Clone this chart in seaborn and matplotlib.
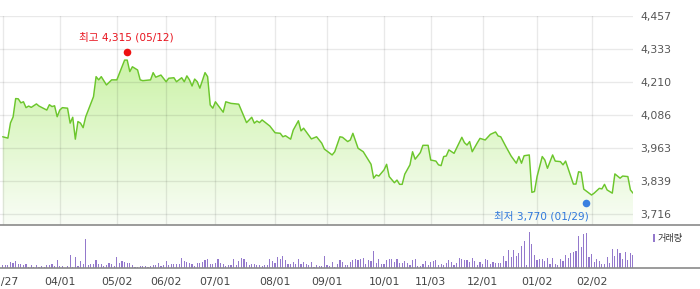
import numpy as np
import pandas as pd
import matplotlib
matplotlib.use("Agg")
import matplotlib.pyplot as plt
import seaborn as sns
from matplotlib.transforms import offset_copy
from matplotlib.patches import Rectangle, PathPatch
from matplotlib.lines import Line2D
from matplotlib.ticker import FuncFormatter

# ---------------- data ----------------
tick_labels = ["02/27", "04/01", "05/02", "06/02", "07/01", "08/01",
               "09/01", "10/01", "11/03", "12/01", "01/02", "02/02"]
tick_days = [0, 22, 44, 63, 82, 105, 125, 147, 165, 185, 206, 227]
price_ticks = [3716, 3839, 3963, 4086, 4210, 4333, 4457]

close_days = [0, 2, 3, 4, 5, 6, 7, 8, 9, 10, 11, 13, 14, 17, 18, 19, 20, 21, 22, 23,
              25, 26, 27, 28, 29, 30, 31, 32, 34, 35, 36, 37, 38, 40, 42, 44, 45, 47, 48, 49,
              50, 52, 53, 54, 57, 58, 59, 61, 63, 64, 66, 67, 69, 70, 71, 72, 73, 74, 75, 76,
              78, 79, 80, 81, 82, 85, 86, 88, 91, 94, 96, 97, 98, 99, 100, 103, 105, 107, 108, 109,
              111, 112, 114, 115, 116, 119, 121, 123, 124, 127, 128, 130, 131, 133, 134, 135, 137, 139, 141, 142,
              143, 144, 145, 147, 148, 149, 151, 152, 153, 154, 155, 157, 158, 159, 161, 162, 164, 165, 167, 168,
              169, 170, 171, 172, 174, 176, 177, 178, 179, 180, 181, 183, 184, 186, 188, 190, 191, 192, 194, 196,
              198, 199, 200, 201, 203, 204, 205, 206, 208, 209, 210, 212, 213, 215, 216, 217, 219, 220, 221, 222,
              223, 224, 226, 227, 228, 230, 231, 232, 233, 235, 236, 238, 239, 241, 242, 243]
close_vals = [4005, 4000, 4057, 4079, 4148, 4147, 4132, 4136, 4114, 4120, 4115, 4128, 4120, 4105, 4125, 4118, 4121, 4080, 4105, 4114,
              4112, 4056, 4078, 3996, 4062, 4056, 4039, 4080, 4130, 4155, 4230, 4218, 4230, 4199, 4218, 4218, 4243, 4292, 4292, 4249,
              4267, 4255, 4218, 4215, 4218, 4245, 4228, 4236, 4211, 4224, 4226, 4211, 4226, 4211, 4233, 4218, 4195, 4221, 4211, 4187,
              4245, 4230, 4124, 4112, 4136, 4097, 4136, 4130, 4127, 4058, 4078, 4056, 4064, 4058, 4068, 4045, 4020, 4018, 4005, 4009,
              3996, 4030, 4065, 4027, 4037, 3997, 4005, 3981, 3959, 3937, 3949, 4005, 4003, 3987, 3993, 4018, 3962, 3949, 3918, 3902,
              3850, 3862, 3858, 3881, 3902, 3856, 3833, 3843, 3827, 3827, 3865, 3900, 3949, 3921, 3946, 3973, 3973, 3918, 3914, 3900,
              3897, 3931, 3933, 3956, 3943, 3983, 4003, 3983, 3974, 3987, 3949, 3983, 3999, 3993, 4014, 4023, 4008, 4005, 3968, 3933,
              3906, 3931, 3906, 3934, 3937, 3797, 3800, 3856, 3931, 3918, 3887, 3937, 3914, 3912, 3900, 3914, 3856, 3828, 3828, 3874,
              3872, 3809, 3794, 3787, 3794, 3812, 3810, 3827, 3806, 3794, 3866, 3850, 3858, 3856, 3806, 3794]

volume = [10, 10, 10, 19, 17, 22, 13, 13, 9, 13,
          4, 9, 5, 9, 4, 7, 5, 10, 10, 13,
          6, 25, 8, 8, 2, 7, 40, 4, 34, 8,
          22, 13, 88, 10, 13, 13, 25, 13, 13, 8,
          10, 17, 13, 7, 34, 17, 22, 19, 17, 17,
          10, 4, 3, 7, 7, 7, 4, 7, 10, 10,
          15, 6, 10, 22, 10, 13, 13, 13, 13, 31,
          22, 19, 17, 12, 7, 17, 17, 19, 25, 28,
          13, 13, 17, 28, 17, 13, 8, 10, 10, 28,
          10, 22, 31, 28, 19, 10, 13, 13, 10, 10,
          6, 10, 10, 28, 22, 17, 34, 28, 37, 25,
          13, 13, 19, 13, 28, 13, 19, 13, 10, 19,
          4, 10, 6,
          6, 37, 10, 6, 19, 4, 13, 25,
          19, 10, 10, 19, 25, 28, 25, 28, 31, 13,
          25, 22, 52, 17, 28, 13, 13, 25, 28, 28,
          19, 28, 17, 17, 22, 17, 10, 25, 28, 6,
          8, 13, 22, 10, 19, 22, 25, 10, 13, 10,
          17, 25, 19, 10, 16, 31, 28, 25, 26, 19,
          31, 22, 10, 19, 13, 28, 25, 13, 19, 17,
          17, 17, 37, 22, 55, 34, 55, 37, 46, 67,
          82, 10, 109, 73, 40, 25, 28, 28, 22, 31,
          13, 31, 13, 10, 28, 22, 40, 31, 46, 49,
          52, 97, 64, 103, 106, 34, 43, 19, 28, 22,
          13, 13, 34, 16, 58, 37, 58, 46, 28, 49,
          25, 46, 40]

hi_day, hi_val, hi_label = 48, 4315, "최고 4,315 (05/12)"
lo_day, lo_val, lo_label = 225, 3770, "최저 3,770 (01/29)"
legend_label = "거래량"

# ---------------- style ----------------
sns.set_style("white")
plt.rcParams['font.family'] = ['DejaVu Sans', 'Noto Sans CJK KR']

W, H = 700, 289
fig = plt.figure(figsize=(W / 100, H / 100), dpi=100)


def fy(py):
    return 1 - py / H


line_color = "#6cc62c"
vol_color = "#9479cc"
xmin, xmax = -1.04, 243.1
ymin, ymax = 3674.8, 4457

ax1 = fig.add_axes([0, fy(225), 633.3 / W, (225 - 16) / H])
ax2 = fig.add_axes([0, fy(268.3), 633.3 / W, (268.3 - 226) / H])

price = pd.DataFrame({"day": close_days, "close": close_vals})
vol = pd.DataFrame({"day": np.arange(len(volume)), "volume": volume})

# gradient area fill
poly = ax1.fill_between(price["day"], price["close"], ymin, color="none", lw=0)
path = poly.get_paths()[0]
clip = PathPatch(path, transform=ax1.transData, facecolor="none", edgecolor="none")
ax1.add_patch(clip)
top = np.array([192, 240, 148]) / 255
bot = np.array([249, 253, 246]) / 255
f = np.linspace(0, 1, 256)[:, None]
grad = (top * (1 - f) + bot * f)[:, None, :]
im = ax1.imshow(grad, extent=[xmin, xmax, ymin, ymax], aspect="auto",
                origin="upper", zorder=1, interpolation="bilinear")
im.set_clip_path(clip)

sns.lineplot(data=price, x="day", y="close", color=line_color, lw=1.05,
             ax=ax1, zorder=3)

ax1.set_xlim(xmin, xmax)
ax1.set_ylim(ymin, ymax)
ax1.set_xticks(tick_days)
ax1.set_yticks(price_ticks)
ax1.yaxis.set_major_formatter(FuncFormatter(lambda v, p: f"{int(round(v)):,}"))
ax1.yaxis.tick_right()
ax1.tick_params(axis="y", length=0, pad=4.8, labelsize=7.8, labelcolor="#555555")
ax1.tick_params(axis="x", length=0, labelbottom=False)
ax1.grid(True, color="black", alpha=0.085, lw=1)
ax1.set_axisbelow(False)
for s in ax1.spines.values():
    s.set_visible(False)
ax1.set_xlabel("")
ax1.set_ylabel("")

# hi / lo markers
tr_hi = offset_copy(ax1.transData, fig=fig, x=0, y=2.2, units="dots")
tr_lo = offset_copy(ax1.transData, fig=fig, x=0, y=-3.7, units="dots")
ax1.scatter([hi_day], [hi_val], s=30, color="#ee1111", transform=tr_hi,
            zorder=5, clip_on=False, linewidths=0)
ax1.scatter([lo_day], [lo_val], s=30, color="#3a80e0", transform=tr_lo,
            zorder=5, clip_on=False, linewidths=0)
ax1.annotate(hi_label, xy=(hi_day, hi_val), xytext=(-0.5, 16.2),
             textcoords="offset pixels", ha="center", va="center",
             color="#e8141e", fontsize=7.6, zorder=6)
ax1.annotate(lo_label, xy=(lo_day, lo_val), xytext=(2.5, -16.5),
             textcoords="offset pixels", ha="right", va="center",
             color="#2f78dc", fontsize=7.6, zorder=6)

# volume
sns.barplot(data=vol, x="day", y="volume", native_scale=True, color=vol_color,
            width=0.45, saturation=1, linewidth=0, ax=ax2)
for p in ax2.patches:
    p.set_antialiased(False)
ax2.set_xlim(xmin, xmax)
ax2.set_ylim(0, 127)
ax2.set_xticks(tick_days, tick_labels)
ax2.set_yticks([])
ax2.tick_params(axis="x", length=2.9, width=0.8, color="#777777", pad=3.2,
                labelsize=7.8, labelcolor="#444444", direction="out")
for s in ax2.spines.values():
    s.set_visible(False)
ax2.set_xlabel("")
ax2.set_ylabel("")

# full-width separators
fig.add_artist(Line2D([0, 1], [fy(225.3), fy(225.3)], transform=fig.transFigure,
                      color="#8a8a8a", lw=1.2))
fig.add_artist(Line2D([0, 1], [fy(268.3), fy(268.3)], transform=fig.transFigure,
                      color="#8a8a8a", lw=1.2))

# volume legend
fig.add_artist(Rectangle((653.3 / W, fy(241.7)), 2.2 / W, 7.7 / H,
                         transform=fig.transFigure, facecolor=vol_color,
                         edgecolor="none"))
fig.text(658 / W, fy(238), legend_label, fontsize=6.6, color="#333333",
         ha="left", va="center")

fig.savefig("out.png", dpi=100)
